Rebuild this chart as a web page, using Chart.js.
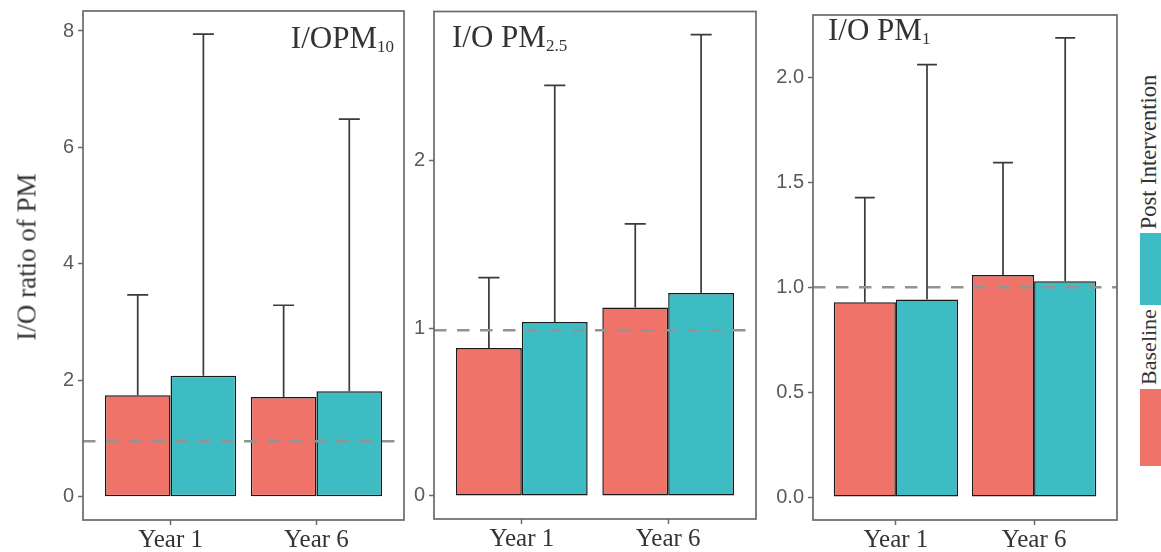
<!DOCTYPE html>
<html>
<head>
<meta charset="utf-8">
<script src="https://cdn.jsdelivr.net/npm/chart.js@4.4.1/dist/chart.umd.min.js"></script>
<style>
  html, body { margin: 0; padding: 0; background: #fff; }
  #wrap { position: relative; width: 1161px; height: 552px; overflow: hidden; background: #fff; }
  #wrap canvas { position: absolute; top: 0; }
  .rot { position: absolute; white-space: nowrap; line-height: 1; transform: translate(-50%, -50%) rotate(-90deg);
         font-family: "Liberation Serif", "Times New Roman", serif; color: #333; }
  .key { position: absolute; }
</style>
</head>
<body>
<div id="wrap">
  <canvas id="c1" width="370" height="552" style="left:40px"></canvas>
  <canvas id="c2" width="355" height="552" style="left:410px"></canvas>
  <canvas id="c3" width="360" height="552" style="left:765px"></canvas>
  <div class="rot" id="ytitle" style="left:27px; top:257px; font-size:27px;"></div>
  <div class="key" style="left:1140px; top:233px; width:30px; height:72px; background:#3DBDC3;"></div>
  <div class="key" style="left:1140px; top:389px; width:30px; height:77px; background:#F07369;"></div>
  <div class="rot" id="leg2" style="left:1149px; top:152px; font-size:22.5px;"></div>
  <div class="rot" id="leg1" style="left:1149px; top:347px; font-size:22px;"></div>
</div>
<script>
// ---------------- data ----------------
const categories = ["Year 1", "Year 6"];
const categoryX = [1, 2];
const seriesNames = ["Baseline", "Post Intervention"];
const yAxisTitle = "I/O ratio of PM";

const panelTitleMain = ["I/OPM", "I/O PM", "I/O PM"];
const panelTitleSub = ["10", "2.5", "1"];

// PM10 panel
const pm10Baseline = [1.745, 1.713];
const pm10Post = [2.08, 1.815];
const pm10BaselineUpper = [3.47, 3.29];
const pm10PostUpper = [7.946, 6.487];
const pm10Ticks = [0, 2, 4, 6, 8];
const pm10TickLabels = ["0", "2", "4", "6", "8"];

// PM2.5 panel
const pm25Baseline = [0.882, 1.123];
const pm25Post = [1.037, 1.21];
const pm25BaselineUpper = [1.302, 1.622];
const pm25PostUpper = [2.448, 2.751];
const pm25Ticks = [0, 1, 2];
const pm25TickLabels = ["0", "1", "2"];

// PM1 panel
const pm1Baseline = [0.929, 1.059];
const pm1Post = [0.942, 1.029];
const pm1BaselineUpper = [1.428, 1.595];
const pm1PostUpper = [2.062, 2.189];
const pm1Ticks = [0, 0.5, 1.0, 1.5, 2.0];
const pm1TickLabels = ["0.0", "0.5", "1.0", "1.5", "2.0"];

// dashed reference line per panel
const refLines = [0.955, 0.988, 1.0];

// ---------------- styles / layout ----------------
const SERIF = '"Liberation Serif", "Times New Roman", serif';
const SANS = '"Liberation Sans", Arial, sans-serif';
const baseColor = "#F07369";
const postColor = "#3DBDC3";
const frameColor = "#6a6a6a";

const panels = [
  { base: pm10Baseline, post: pm10Post, baseUp: pm10BaselineUpper, postUp: pm10PostUpper,
    ticks: pm10Ticks, tickLabels: pm10TickLabels, ref: refLines[0], tMain: panelTitleMain[0], tSub: panelTitleSub[0] },
  { base: pm25Baseline, post: pm25Post, baseUp: pm25BaselineUpper, postUp: pm25PostUpper,
    ticks: pm25Ticks, tickLabels: pm25TickLabels, ref: refLines[1], tMain: panelTitleMain[1], tSub: panelTitleSub[1] },
  { base: pm1Baseline, post: pm1Post, baseUp: pm1BaselineUpper, postUp: pm1PostUpper,
    ticks: pm1Ticks, tickLabels: pm1TickLabels, ref: refLines[2], tMain: panelTitleMain[2], tSub: panelTitleSub[2] }
];

const layouts = [
  { id: "c1", yAxisW: 43, padRight: 6, padTop: 11, xAxisH: 32, tAlign: "right", tDx: -10, tDy: 36.5 },
  { id: "c2", yAxisW: 24, padRight: 9, padTop: 11.5, xAxisH: 33, tAlign: "left", tDx: 18, tDy: 35 },
  { id: "c3", yAxisW: 48, padRight: 8, padTop: 15, xAxisH: 32, tAlign: "left", tDx: 15, tDy: 25 }
];

document.getElementById("ytitle").textContent = yAxisTitle;
document.getElementById("leg1").textContent = seriesNames[0];
document.getElementById("leg2").textContent = seriesNames[1];

function makeDecor(p, L) {
  return {
    id: "decor",
    afterDatasetsDraw(chart) {
      const ctx = chart.ctx, a = chart.chartArea, ys = chart.scales.y;
      ctx.save();
      // error bars
      ctx.strokeStyle = "#3a3a3a";
      ctx.lineWidth = 1.7;
      [p.baseUp, p.postUp].forEach((up, di) => {
        const meta = chart.getDatasetMeta(di);
        meta.data.forEach((el, j) => {
          const yTop = ys.getPixelForValue(up[j]);
          const half = el.width * 0.16;
          ctx.beginPath();
          ctx.moveTo(el.x, el.y);
          ctx.lineTo(el.x, yTop);
          ctx.moveTo(el.x - half, yTop);
          ctx.lineTo(el.x + half, yTop);
          ctx.stroke();
        });
      });
      // dashed reference line
      const yr = ys.getPixelForValue(p.ref);
      ctx.strokeStyle = "#939393";
      ctx.lineWidth = 2.5;
      ctx.setLineDash([12.5, 10.5]);
      ctx.beginPath();
      ctx.moveTo(a.left, yr);
      ctx.lineTo(a.right, yr);
      ctx.stroke();
      ctx.setLineDash([]);
      // frame
      ctx.strokeStyle = frameColor;
      ctx.lineWidth = 1.7;
      ctx.strokeRect(a.left, a.top, a.right - a.left, a.bottom - a.top);
      // panel title with subscript
      const mainFont = "31px " + SERIF, subFont = "17px " + SERIF;
      ctx.fillStyle = "#333";
      ctx.textBaseline = "alphabetic";
      ctx.textAlign = "left";
      ctx.font = mainFont;
      const wMain = ctx.measureText(p.tMain).width;
      ctx.font = subFont;
      const wSub = ctx.measureText(p.tSub).width;
      const x0 = L.tAlign === "right" ? a.right + L.tDx - wMain - wSub : a.left + L.tDx;
      const yb = a.top + L.tDy;
      ctx.font = mainFont;
      ctx.fillText(p.tMain, x0, yb);
      ctx.font = subFont;
      ctx.fillText(p.tSub, x0 + wMain, yb + 4);
      ctx.restore();
    }
  };
}

panels.forEach((p, i) => {
  const L = layouts[i];
  const maxUp = Math.max(...p.baseUp, ...p.postUp);
  const yMin = -0.05 * maxUp, yMax = 1.05 * maxUp;
  const ctx = document.getElementById(L.id).getContext("2d");
  new Chart(ctx, {
    type: "bar",
    data: {
      datasets: [
        { label: seriesNames[0], data: categoryX.map((x, j) => ({ x: x, y: p.base[j] })),
          backgroundColor: baseColor, borderColor: "#1a1a1a", borderWidth: 1.5, borderSkipped: false },
        { label: seriesNames[1], data: categoryX.map((x, j) => ({ x: x, y: p.post[j] })),
          backgroundColor: postColor, borderColor: "#1a1a1a", borderWidth: 1.5, borderSkipped: false }
      ]
    },
    options: {
      responsive: false,
      animation: false,
      devicePixelRatio: 1,
      layout: { padding: { left: 0, right: L.padRight, top: L.padTop, bottom: 0 } },
      plugins: { legend: { display: false }, tooltip: { enabled: false } },
      datasets: { bar: { categoryPercentage: 0.9, barPercentage: 1.0 } },
      scales: {
        x: {
          type: "linear", min: 0.4, max: 2.6, offset: false,
          grid: { offset: false, display: true, drawOnChartArea: false, drawTicks: true,
                  tickLength: 5, tickColor: frameColor, tickWidth: 1.5 },
          border: { display: false },
          afterBuildTicks: s => { s.ticks = categoryX.map(v => ({ value: v })); },
          ticks: { callback: (v, idx) => categories[idx], font: { family: SERIF, size: 25 },
                   color: "#333", padding: 0, maxRotation: 0, minRotation: 0, autoSkip: false },
          afterFit: s => { s.height = L.xAxisH; s.paddingLeft = 0; s.paddingRight = 0; }
        },
        y: {
          type: "linear", min: yMin, max: yMax,
          grid: { display: true, drawOnChartArea: false, drawTicks: true,
                  tickLength: 5, tickColor: frameColor, tickWidth: 1.5 },
          border: { display: false },
          afterBuildTicks: s => { s.ticks = p.ticks.map(v => ({ value: v })); },
          ticks: { callback: (v, idx) => p.tickLabels[idx], font: { family: SANS, size: 20 },
                   color: "#5a5a5a", padding: 4, autoSkip: false },
          afterFit: s => { s.width = L.yAxisW; s.paddingTop = 0; s.paddingBottom = 0; }
        }
      }
    },
    plugins: [makeDecor(p, L)]
  });
});
</script>
</body>
</html>
